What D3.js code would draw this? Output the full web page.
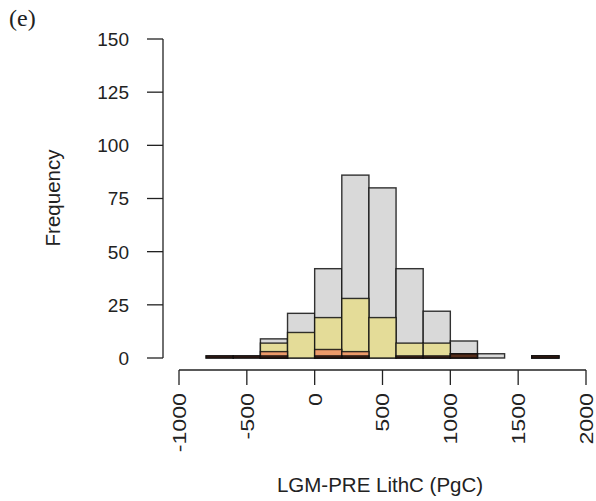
<!DOCTYPE html>
<html lang="en">
<head>
<meta charset="UTF-8">
<title>LGM-PRE LithC histogram</title>
<style>
  body { margin: 0; background: #fff; }
  text { font-family: "Liberation Sans", Arial, sans-serif; fill: #222; }
</style>
</head>
<body>
<svg id="chart" width="596" height="501"></svg>
<script src="https://d3js.org/d3.v7.min.js"></script>
<script>
// bin left edges (PgC), each bin 200 wide
var binStarts = [-800, -600, -400, -200, 0, 200, 400, 600, 800, 1000, 1200, 1400, 1600];
var binWidth = 200;
// overlapping histograms, drawn back to front
var countsAll    = [1, 1, 9, 21, 42, 86, 80, 42, 22, 8, 2, 0, 1];
var countsYellow = [0, 0, 7, 12, 19, 28, 19, 7, 7, 2, 0, 0, 1];
var countsOrange = [0, 0, 3, 0, 4, 3, 0, 0, 0, 0, 0, 0, 0];
var countsDark   = [1, 1, 1, 0, 1, 1, 0, 1, 1, 2, 0, 0, 1];
var xTicks = [-1000, -500, 0, 500, 1000, 1500, 2000];
var yTicks = [0, 25, 50, 75, 100, 125, 150];

var series = [
  { counts: countsAll,    color: "#d9d9d9", op: 1 },
  { counts: countsYellow, color: "#e4dc98", op: 1 },
  { counts: countsOrange, color: "#ec9a6a", op: 1 },
  { counts: countsDark,   color: "#3a0e04", op: 0.85 }
];

var svg = d3.select("#chart");

var x = d3.scaleLinear().domain([-1000, 2000]).range([179, 586]);
var y = d3.scaleLinear().domain([0, 150]).range([358, 39]);

series.forEach(function (s) {
  svg.append("g")
    .selectAll("rect")
    .data(binStarts.map(function (b, i) { return { x0: b, n: s.counts[i] }; })
                   .filter(function (d) { return d.n > 0; }))
    .enter().append("rect")
    .attr("x", function (d) { return x(d.x0); })
    .attr("width", function (d) { return x(d.x0 + binWidth) - x(d.x0); })
    .attr("y", function (d) { return y(d.n); })
    .attr("height", function (d) { return y(0) - y(d.n); })
    .attr("fill", s.color)
    .attr("fill-opacity", s.op)
    .attr("stroke", "#111")
    .attr("stroke-opacity", 0.85)
    .attr("stroke-width", 1.4);
});

// y axis (R style, detached)
var yAxis = svg.append("g").attr("stroke", "#222").attr("stroke-width", 1.3);
yAxis.append("line")
  .attr("x1", 163).attr("x2", 163)
  .attr("y1", y(0)).attr("y2", y(150));
yAxis.selectAll(".tk").data(yTicks).enter().append("line")
  .attr("x1", 147).attr("x2", 163)
  .attr("y1", function (d) { return y(d); })
  .attr("y2", function (d) { return y(d); });
svg.append("g").selectAll("text").data(yTicks).enter().append("text")
  .attr("x", 129)
  .attr("y", function (d) { return y(d); })
  .attr("dy", "0.36em")
  .attr("text-anchor", "end")
  .style("font-size", "19px")
  .text(function (d) { return d; });

// x axis
var xAxis = svg.append("g").attr("stroke", "#222").attr("stroke-width", 1.3);
xAxis.append("line")
  .attr("x1", x(-1000)).attr("x2", x(2000))
  .attr("y1", 370).attr("y2", 370);
xAxis.selectAll(".tk").data(xTicks).enter().append("line")
  .attr("x1", function (d) { return x(d); })
  .attr("x2", function (d) { return x(d); })
  .attr("y1", 370).attr("y2", 385);
svg.append("g").selectAll("text").data(xTicks).enter().append("text")
  .attr("transform", function (d) {
    return "translate(" + x(d) + ",393) rotate(-90) scale(1.22,1)";
  })
  .attr("dy", "0.36em")
  .attr("text-anchor", "end")
  .style("font-size", "19px")
  .text(function (d) { return d; });

// axis titles
svg.append("text")
  .attr("x", 380).attr("y", 492)
  .attr("text-anchor", "middle")
  .style("font-size", "20.5px")
  .text("LGM-PRE LithC (PgC)");

svg.append("text")
  .attr("transform", "translate(60,198) rotate(-90)")
  .attr("text-anchor", "middle")
  .style("font-size", "20.5px")
  .text("Frequency");

svg.append("text")
  .attr("x", 9).attr("y", 26)
  .style("font-family", "'Liberation Serif', 'Times New Roman', serif")
  .style("font-size", "24px")
  .text("(e)");
</script>
</body>
</html>
